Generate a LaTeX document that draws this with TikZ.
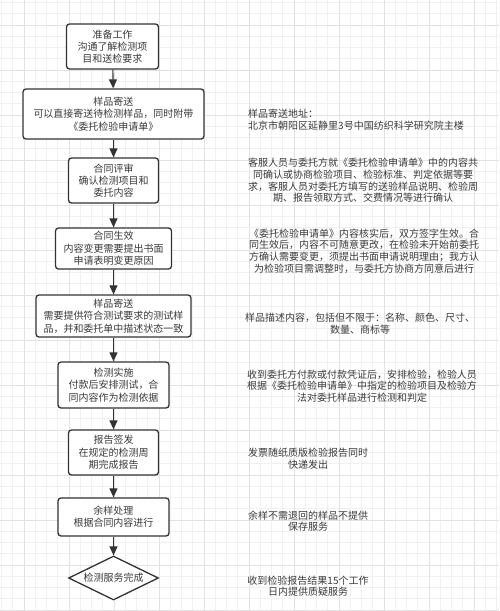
\documentclass[tikz,border=0pt]{standalone}
\usepackage{fontspec}
\setmainfont{Noto Sans CJK SC}
\usetikzlibrary{arrows.meta,shapes.geometric}
\definecolor{gridminor}{HTML}{F1F1F1}
\definecolor{gridmajor}{HTML}{E2E2E2}
\definecolor{ink}{HTML}{333333}
\definecolor{txt}{HTML}{3A3A3A}
\tikzset{
  stepbox/.style={draw=ink, line width=1.3pt, fill=white, rounded corners=3pt,
    align=center, inner sep=0pt, text=txt, font=\fontsize{10pt}{12.3pt}\selectfont},
  endbox/.style={draw=ink, line width=1.3pt, fill=white, diamond, aspect=2.05,
    inner sep=0pt, text=txt, font=\fontsize{10pt}{12pt}\selectfont},
  note/.style={inner sep=0pt, text=txt, font=\fontsize{10pt}{11.6pt}\selectfont},
  flow/.style={draw=ink, line width=1.2pt, -{Triangle[length=9pt,width=8pt]}},
}
\begin{document}
\begin{tikzpicture}[x=1pt,y=-1pt]
\useasboundingbox (0,0) rectangle (499,611);
\fill[white] (0,0) rectangle (499,611);
% grid
\foreach \k in {0,...,44} \draw[gridminor, line width=0.8pt] ({1.5+11.25*\k},0) -- ({1.5+11.25*\k},611);
\foreach \k in {0,...,54} \draw[gridminor, line width=0.8pt] (0,{2.5+11.25*\k}) -- (499,{2.5+11.25*\k});
\foreach \k in {0,...,10} \draw[gridmajor, line width=0.8pt] ({24+45*\k},0) -- ({24+45*\k},611);
\foreach \k in {0,...,13} \draw[gridmajor, line width=0.8pt] (0,{25+45*\k}) -- (499,{25+45*\k});

% flow boxes
\node[stepbox, minimum width=92pt, minimum height=45pt] (b1) at (112.5,46.5) {准备工作\\沟通了解检测项\\目和送检要求};
\node[stepbox, minimum width=181pt, minimum height=50pt] (b2) at (113.5,114) {样品寄送\\可以直接寄送待检测样品，同时附带\\《委托检验申请单》};
\node[stepbox, minimum width=90pt, minimum height=45pt] (b3) at (113.5,180.5) {合同评审\\确认检测项目和\\委托内容};
\node[stepbox, minimum width=116pt, minimum height=41pt] (b4) at (113.5,248.5) {合同生效\\内容变更需要提出书面\\申请表明变更原因};
\node[stepbox, minimum width=155pt, minimum height=42pt] (b5) at (113.5,316) {样品寄送\\需要提供符合测试要求的测试样\\品，并和委托单中描述状态一致};
\node[stepbox, minimum width=111pt, minimum height=46pt] (b6) at (113.5,385) {检测实施\\付款后安排测试，合\\同内容作为检测依据};
\node[stepbox, minimum width=90pt, minimum height=45pt] (b7) at (113.5,452.5) {报告签发\\在规定的检测周\\期完成报告};
\node[stepbox, minimum width=111pt, minimum height=38pt] (b8) at (113.5,517) {余样处理\\根据合同内容进行};
\node[endbox, minimum width=90pt, minimum height=44pt] (b9) at (113.5,578) {检测服务完成};

% connectors
\draw[flow] (b1) -- (b2);
\draw[flow] (b2) -- (b3);
\draw[flow] (b3) -- (b4);
\draw[flow] (b4) -- (b5);
\draw[flow] (b5) -- (b6);
\draw[flow] (b6) -- (b7);
\draw[flow] (b7) -- (b8);
\draw[flow] (b8) -- (b9);

% notes
\node[note, align=left, anchor=west] (n1) at (248,119.5) {样品寄送地址：\\北京市朝阳区延静里3号中国纺织科学研究院主楼};
\node[note, align=center] (n2) at (363,180.5) {客服人员与委托方就《委托检验申请单》中的内容共\\同确认或协商检验项目、检验标准、判定依据等要\\求，客服人员对委托方填写的送验样品说明、检验周\\期、报告领取方式、交费情况等进行确认};
\node[note, align=center] (n3) at (364,251) {《委托检验申请单》内容核实后，双方签字生效。合\\同生效后，内容不可随意更改，在检验未开始前委托\\方确认需要变更，须提出书面申请说明理由；我方认\\为检验项目需调整时，与委托方协商方同意后进行};
\node[note, align=center] (n4) at (360,323.5) {样品描述内容，包括但不限于：名称、颜色、尺寸、\\数量、商标等};
\node[note, align=center] (n5) at (362,386) {收到委托方付款或付款凭证后，安排检验，检验人员\\根据《委托检验申请单》中指定的检验项目及检验方\\法对委托样品进行检测和判定};
\node[note, align=center] (n6) at (308,458.5) {发票随纸质版检验报告同时\\快递发出};
\node[note, align=center] (n7) at (308,521) {余样不需退回的样品不提供\\保存服务};
\node[note, align=center] (n8) at (308,586) {收到检验报告结果15个工作\\日内提供质疑服务};
\end{tikzpicture}
\end{document}
